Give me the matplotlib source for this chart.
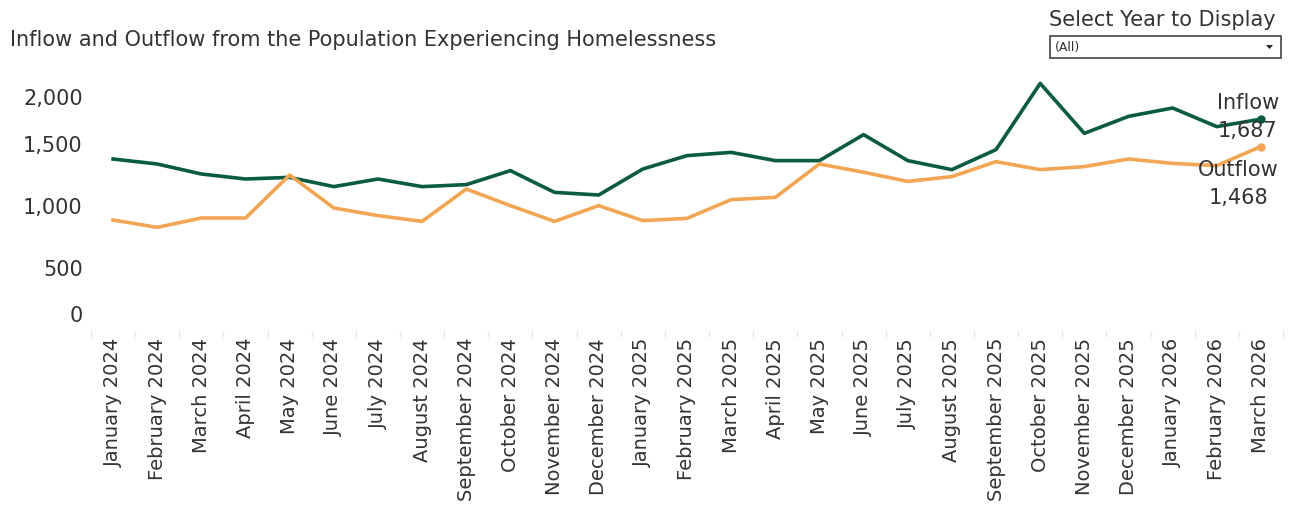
import matplotlib
matplotlib.use("Agg")
import matplotlib.pyplot as plt
import matplotlib.transforms as mtransforms
from matplotlib.patches import Rectangle, Polygon
import numpy as np

# datos
meses = ["January 2024", "February 2024", "March 2024", "April 2024", "May 2024",
         "June 2024", "July 2024", "August 2024", "September 2024", "October 2024",
         "November 2024", "December 2024", "January 2025", "February 2025",
         "March 2025", "April 2025", "May 2025", "June 2025", "July 2025",
         "August 2025", "September 2025", "October 2025", "November 2025",
         "December 2025", "January 2026", "February 2026", "March 2026"]

inflow = [1368, 1328, 1248, 1208, 1221, 1147, 1208, 1147, 1163, 1275, 1101, 1080,
          1288, 1395, 1421, 1355, 1355, 1563, 1355, 1283, 1443, 1973, 1573, 1709,
          1776, 1627, 1687]
outflow = [880, 821, 896, 896, 1240, 976, 915, 869, 1128, 995, 869, 995,
           875, 893, 1043, 1061, 1328, 1262, 1189, 1227, 1347, 1283, 1307, 1368,
           1333, 1315, 1468]

y_ticks = [0, 500, 1000, 1500, 2000]
y_labels = ["0", "500", "1,000", "1,500", "2,000"]

verde = "#0b5a43"
naranja = "#f2a654"
texto = "#333333"

fig = plt.figure(figsize=(12.89, 5.06), dpi=100)
ax = fig.add_axes([91 / 1289, 1 - 331 / 506, (1283 - 91) / 1289, 250 / 506])

x = np.arange(len(meses))
ax.plot(x, inflow, color=verde, linewidth=2.6, solid_joinstyle="round")
ax.plot(x, outflow, color=naranja, linewidth=2.6, solid_joinstyle="round")
ax.plot(x[-1], inflow[-1], "o", color=verde, markersize=5)
ax.plot(x[-1], outflow[-1], "o", color=naranja, markersize=5)

ax.set_xlim(-0.5, len(meses) - 0.5)
ax.set_ylim(0, 2000)
for s in ax.spines.values():
    s.set_visible(False)

ax.set_xticks(x)
ax.set_xticklabels(meses, rotation=90, fontsize=14, color=texto)
ax.tick_params(axis="x", length=0, pad=5)
ax.set_xticks(np.arange(-0.5, len(meses), 1), minor=True)
ax.tick_params(axis="x", which="minor", length=5, color="#e8e8e8", width=1)

ax.set_yticks(y_ticks)
ax.set_yticklabels(y_labels, fontsize=15, color=texto)
ax.tick_params(axis="y", length=0, pad=6)
# Tableau empuja las etiquetas de los extremos hacia adentro
etqs = ax.get_yticklabels()
etqs[0].set_transform(etqs[0].get_transform() +
                      mtransforms.ScaledTranslation(0, 17 / 100, fig.dpi_scale_trans))
etqs[-1].set_transform(etqs[-1].get_transform() +
                       mtransforms.ScaledTranslation(0, -16 / 100, fig.dpi_scale_trans))

# etiquetas al final de las lineas
ax.annotate("Inflow\n1,687", xy=(x[-1], inflow[-1]), xytext=(-9.5, 2.5),
            textcoords="offset points", ha="center", va="center",
            fontsize=15, color=texto, linespacing=1.5)
ax.annotate("Outflow\n1,468", xy=(x[-1], outflow[-1]), xytext=(-16, -26.5),
            textcoords="offset points", ha="center", va="center",
            fontsize=15, color=texto, linespacing=1.5)

fig.text(10 / 1289, 1 - 40 / 506, "Inflow and Outflow from the Population Experiencing Homelessness",
         fontsize=15, color=texto, va="center", ha="left")

# control de filtro
fig.text(1049 / 1289, 1 - 20 / 506, "Select Year to Display", fontsize=15,
         color=texto, va="center", ha="left")
fig.patches.append(Rectangle((1050 / 1289, 1 - 59 / 506), 231 / 1289, 22 / 506,
                             transform=fig.transFigure, facecolor="white",
                             edgecolor="#444444", linewidth=1.2))
fig.text(1055 / 1289, 1 - 48 / 506, "(All)", fontsize=9, color=texto,
         va="center", ha="left")
fig.patches.append(Polygon([(1266 / 1289, 1 - 46 / 506), (1273 / 1289, 1 - 46 / 506),
                            (1269.5 / 1289, 1 - 50 / 506)], closed=True,
                           transform=fig.transFigure, facecolor="#222222",
                           edgecolor="none"))

plt.savefig("out.png", dpi=100)
plt.close()
